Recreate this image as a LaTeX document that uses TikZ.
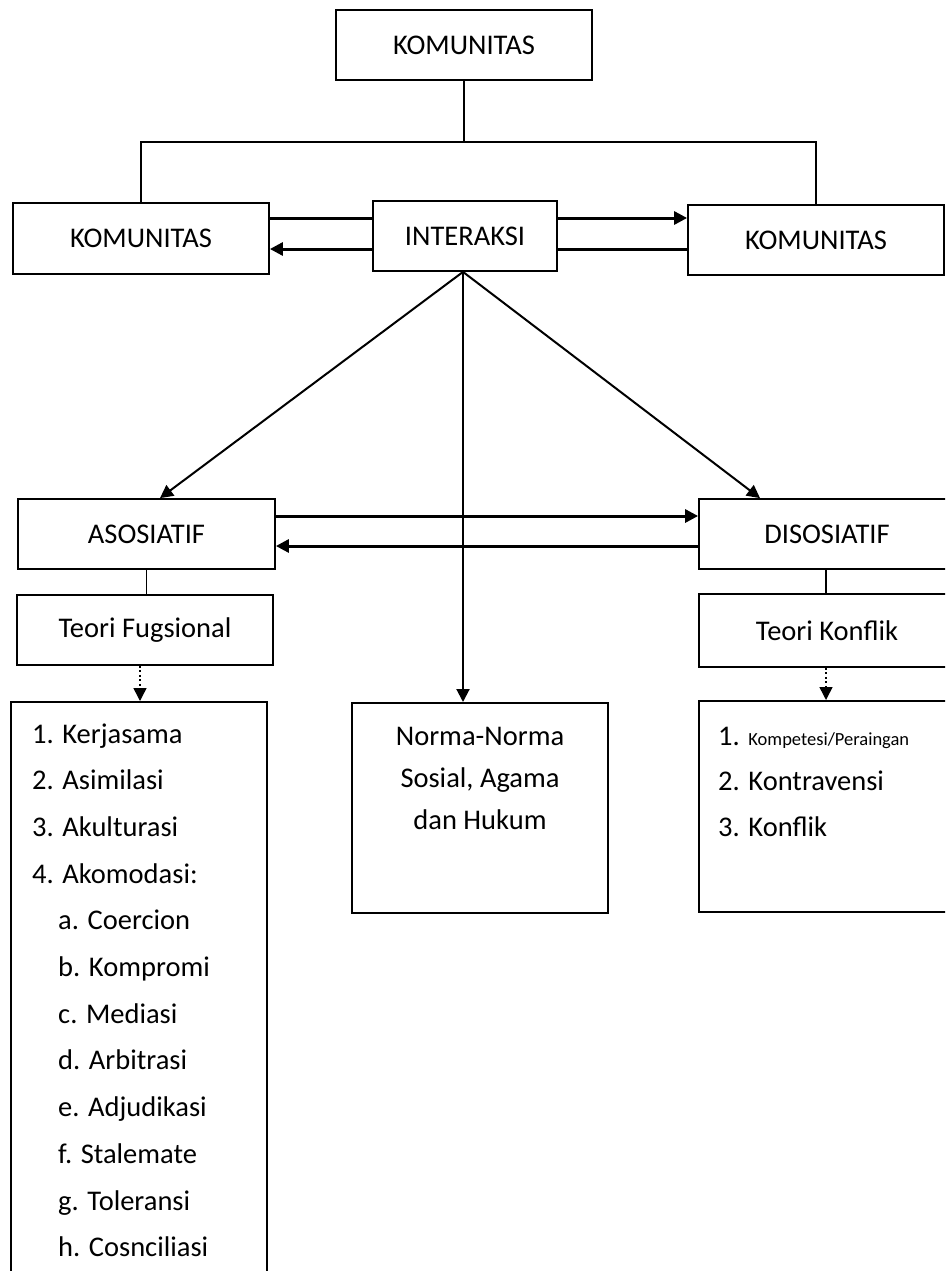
\documentclass[tikz,border=0pt]{standalone}
\usepackage{fontspec}
\setmainfont{Carlito}
\usetikzlibrary{arrows.meta}
\newcommand{\bigfs}{\fontsize{28.5}{34}\selectfont}
\newcommand{\smallfs}{\fontsize{18.5}{22}\selectfont}
\begin{document}
\begin{tikzpicture}[x=1pt,y=-1pt,
 box/.style={draw,line width=1.8pt,minimum width=256pt,minimum height=70pt,inner sep=0pt,font=\bigfs},
 txt/.style={anchor=base west,inner sep=0pt,font=\bigfs},
 ctxt/.style={anchor=base,inner sep=0pt,font=\bigfs},
 arr/.style={-{Triangle[length=13pt,width=13pt]}},
 conn/.style={line width=1.5pt},
 heavy/.style={line width=3pt},
 diag/.style={line width=2pt},
 dots/.style={line width=1.5pt,dash pattern=on 2pt off 2.5pt}]
\useasboundingbox (0,0) rectangle (945,1271);
\fill[white] (0,0) rectangle (945,1271);
\clip (0,0) rectangle (945,1271);

% boxes
\node[box] (top) at (464,45) {KOMUNITAS};
\node[box, minimum height=71pt] (kl) at (141,238.5) {KOMUNITAS};
\node[box, minimum width=184pt] (inter) at (465,236) {INTERAKSI};
\node[box] (kr) at (816,240) {KOMUNITAS};
\node[box, minimum width=257pt] (aso) at (146.5,534) {ASOSIATIF};
\node[box] (diso) at (827,534) {DISOSIATIF};
\node[box] (tf) at (145,630) {Teori Fugsional};
\node[box, minimum height=73pt] (tk) at (827,630.5) {Teori Konflik};
\node[box, minimum height=600pt, anchor=north] (ll) at (139,701) {};
\node[box, minimum height=210pt, anchor=north] (norma) at (480,702) {};
\node[box, minimum height=211pt, anchor=north] (lr) at (827,700) {};

% left list
\foreach \t [count=\i from 0] in {1. Kerjasama, 2. Asimilasi, 3. Akulturasi, 4. Akomodasi:}
  \node[txt] (li\i) at (32,{743+46.7*\i}) {\t};
\foreach \t [count=\i from 4] in {a. Coercion, b. Kompromi, c. Mediasi, d. Arbitrasi, e. Adjudikasi, f. Stalemate, g. Toleransi, h. Cosnciliasi}
  \node[txt] (li\i) at (58,{743+46.7*\i}) {\t};

% norma text
\node[ctxt] (n1) at (480,745) {Norma-Norma};
\node[ctxt] (n2) at (480,787) {Sosial, Agama};
\node[ctxt] (n3) at (480,829) {dan Hukum};

% right list
\node[txt] (r1) at (718,745) {1. {\smallfs Kompetesi/Peraingan}};
\node[txt] (r2) at (718,790.5) {2. Kontravensi};
\node[txt] (r3) at (718,836) {3. Konflik};

% tree connector
\coordinate (hl) at (141,142);
\coordinate (hr) at (816,142);
\draw[conn] (top.south) -- (top.south |- hl);
\draw[conn] (kl.north) -- (hl) -- (hr) -- (kr.north);

% interaction arrows
\coordinate (ya) at (0,218);
\coordinate (yb) at (0,249);
\draw[heavy] (kl.east |- ya) -- (inter.west |- ya);
\draw[heavy,arr] (inter.east |- ya) -- (kr.west |- ya);
\draw[heavy,arr] (inter.west |- yb) -- (kl.east |- yb);
\draw[heavy] (kr.west |- yb) -- (inter.east |- yb);

% diagonals
\draw[diag,arr] ([xshift=-2pt]inter.south) -- ([xshift=13.5pt]aso.north);
\draw[diag,arr] ([xshift=-2pt]inter.south) -- ([xshift=-67pt]diso.north);
\draw[diag,arr] ([xshift=-2pt]inter.south) -- ([xshift=-17pt]norma.north);

% asosiatif / disosiatif
\draw[heavy,arr] ([yshift=18pt]aso.east) -- ([yshift=18pt]aso.east -| diso.west);
\draw[heavy,arr] ([yshift=-12pt]diso.west) -- ([yshift=-12pt]diso.west -| aso.east);

% theory links
\draw[conn] (aso.south) -- (aso.south |- tf.north);
\draw[dots,arr] ([xshift=-5pt]tf.south) -- ([xshift=-5pt]tf.south |- ll.north);
\draw[conn] ([xshift=-1pt]diso.south) -- ([xshift=-1pt]diso.south |- tk.north);
\draw[dots,arr] ([xshift=-1pt]tk.south) -- ([xshift=-1pt]tk.south |- lr.north);
\end{tikzpicture}
\end{document}
